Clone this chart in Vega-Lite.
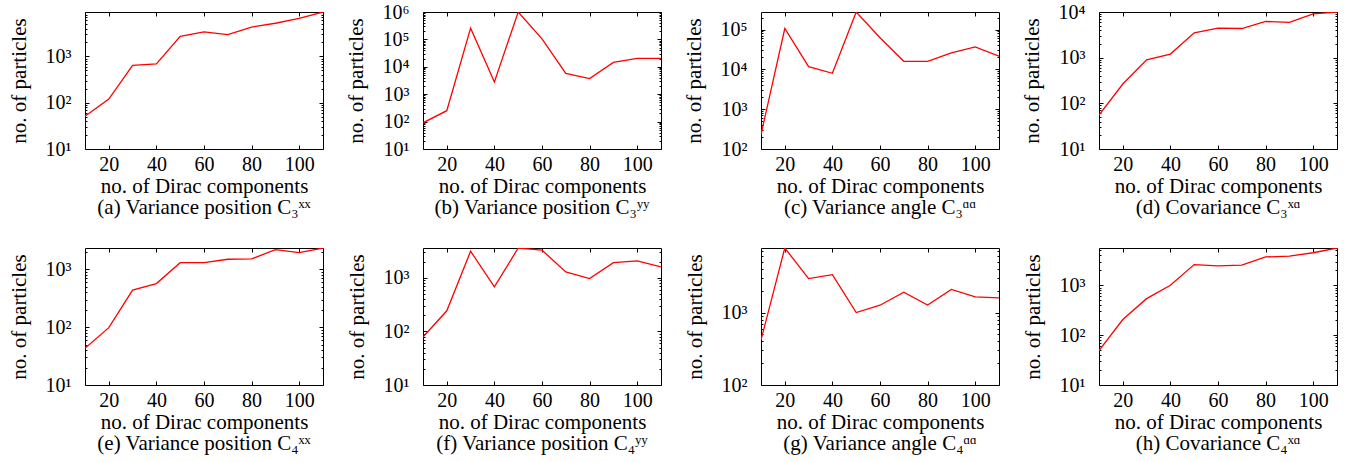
{
  "$schema": "https://vega.github.io/schema/vega-lite/v6.json",
  "background": "white",
  "padding": {"left": 7, "top": 1, "right": 0, "bottom": 0},
  "config": {
    "font": "Liberation Serif",
    "view": {"stroke": "#000000", "strokeWidth": 1},
    "axis": {"domain": false, "grid": false, "ticks": true, "tickColor": "#000000", "tickWidth": 1, "tickSize": -4, "labelFont": "Liberation Serif", "labelFontSize": 20, "labelColor": "#000000", "titleFont": "Liberation Serif", "titleFontSize": 21, "titleFontWeight": "normal", "titleColor": "#000000", "labelOverlap": false},
    "axisX": {"labelPadding": 9, "titlePadding": 1},
    "axisY": {"labelPadding": 18, "titlePadding": 16, "labelFlush": false},
    "title": {"font": "Liberation Serif", "fontSize": 21, "fontWeight": "normal", "color": "#000000", "orient": "bottom", "anchor": "middle", "offset": 1}
  },
  "datasets": {
    "a": [{"n":10,"p":51},{"n":20,"p":120},{"n":30,"p":638},{"n":40,"p":690},{"n":50,"p":2700},{"n":60,"p":3380},{"n":70,"p":2950},{"n":80,"p":4300},{"n":90,"p":5200},{"n":100,"p":6600},{"n":110,"p":9100}],
    "b": [{"n":10,"p":90},{"n":20,"p":250},{"n":30,"p":257000},{"n":40,"p":2800},{"n":50,"p":1000000},{"n":60,"p":105000},{"n":70,"p":5700},{"n":80,"p":3700},{"n":90,"p":14400},{"n":100,"p":20400},{"n":110,"p":20400}],
    "c": [{"n":10,"p":230},{"n":20,"p":106000},{"n":30,"p":11700},{"n":40,"p":7950},{"n":50,"p":275000},{"n":60,"p":62000},{"n":70,"p":15900},{"n":80,"p":15900},{"n":90,"p":25800},{"n":100,"p":36700},{"n":110,"p":21500}],
    "d": [{"n":10,"p":55},{"n":20,"p":265},{"n":30,"p":900},{"n":40,"p":1200},{"n":50,"p":3500},{"n":60,"p":4430},{"n":70,"p":4350},{"n":80,"p":6200},{"n":90,"p":5900},{"n":100,"p":9100},{"n":110,"p":10000}],
    "e": [{"n":10,"p":43},{"n":20,"p":98},{"n":30,"p":435},{"n":40,"p":565},{"n":50,"p":1300},{"n":60,"p":1300},{"n":70,"p":1490},{"n":80,"p":1510},{"n":90,"p":2180},{"n":100,"p":1940},{"n":110,"p":2330}],
    "f": [{"n":10,"p":79},{"n":20,"p":243},{"n":30,"p":3150},{"n":40,"p":680},{"n":50,"p":3620},{"n":60,"p":3300},{"n":70,"p":1290},{"n":80,"p":975},{"n":90,"p":1930},{"n":100,"p":2080},{"n":110,"p":1600}],
    "g": [{"n":10,"p":416},{"n":20,"p":7760},{"n":30,"p":2940},{"n":40,"p":3330},{"n":50,"p":1000},{"n":60,"p":1260},{"n":70,"p":1910},{"n":80,"p":1270},{"n":90,"p":2080},{"n":100,"p":1640},{"n":110,"p":1590}],
    "h": [{"n":10,"p":49},{"n":20,"p":206},{"n":30,"p":540},{"n":40,"p":1000},{"n":50,"p":2600},{"n":60,"p":2450},{"n":70,"p":2550},{"n":80,"p":3700},{"n":90,"p":3860},{"n":100,"p":4500},{"n":110,"p":5600}]
  },
  "bounds": "flush",
  "columns": 4,
  "spacing": {"row": 99, "column": 100},
  "concat": [
    {
      "width": 238, "height": 137,
      "title": {"text": "(a) Variance position C₃ˣˣ"},
      "data": {"name": "a"},
      "layer": [
        {"mark": {"type": "line", "color": "#ff0000", "strokeWidth": 1.3, "clip": true},
         "encoding": {
           "x": {"field": "n", "type": "quantitative", "scale": {"domain": [10, 110], "nice": false, "zero": false}, "axis": {"orient": "bottom", "values": [20,40,60,80,100], "title": "no. of Dirac components"}},
           "y": {"field": "p", "type": "quantitative", "scale": {"type": "log", "domain": [10, 9100], "nice": false}, "axis": {"orient": "left", "title": "no. of particles", "values": [10,20,30,40,50,60,70,80,90,100,200,300,400,500,600,700,800,900,1000,2000,3000,4000,5000,6000,7000,8000,9000,10000,20000,30000,40000,50000,60000,70000,80000,90000,100000,200000,300000,400000,500000,600000,700000,800000,900000,1000000], "labelExpr": "abs(log(datum.value)/LN10 - round(log(datum.value)/LN10)) < 0.001 ? '10' + ['⁰','¹','²','³','⁴','⁵','⁶','⁷'][round(log(datum.value)/LN10)] : ''", "tickSize": {"condition": {"test": "abs(log(datum.value)/LN10 - round(log(datum.value)/LN10)) < 0.001", "value": -4}, "value": -2}}}
         }},
        {"mark": {"type": "line", "opacity": 0},
         "encoding": {
           "x": {"field": "n", "type": "quantitative", "scale": {"domain": [10, 110], "nice": false, "zero": false}, "axis": {"orient": "top", "values": [20,40,60,80,100], "labels": false, "title": null}},
           "y": {"field": "p", "type": "quantitative", "scale": {"type": "log", "domain": [10, 9100], "nice": false}, "axis": {"orient": "right", "title": null, "labels": false, "values": [10,20,30,40,50,60,70,80,90,100,200,300,400,500,600,700,800,900,1000,2000,3000,4000,5000,6000,7000,8000,9000,10000,20000,30000,40000,50000,60000,70000,80000,90000,100000,200000,300000,400000,500000,600000,700000,800000,900000,1000000], "tickSize": {"condition": {"test": "abs(log(datum.value)/LN10 - round(log(datum.value)/LN10)) < 0.001", "value": -4}, "value": -2}}}
         }}
      ],
      "resolve": {"axis": {"x": "independent", "y": "independent"}}
    },
    {
      "width": 238, "height": 137,
      "title": {"text": "(b) Variance position C₃ʸʸ"},
      "data": {"name": "b"},
      "layer": [
        {"mark": {"type": "line", "color": "#ff0000", "strokeWidth": 1.3, "clip": true},
         "encoding": {
           "x": {"field": "n", "type": "quantitative", "scale": {"domain": [10, 110], "nice": false, "zero": false}, "axis": {"orient": "bottom", "values": [20,40,60,80,100], "title": "no. of Dirac components"}},
           "y": {"field": "p", "type": "quantitative", "scale": {"type": "log", "domain": [10, 1000000], "nice": false}, "axis": {"orient": "left", "title": "no. of particles", "values": [10,20,30,40,50,60,70,80,90,100,200,300,400,500,600,700,800,900,1000,2000,3000,4000,5000,6000,7000,8000,9000,10000,20000,30000,40000,50000,60000,70000,80000,90000,100000,200000,300000,400000,500000,600000,700000,800000,900000,1000000], "labelExpr": "abs(log(datum.value)/LN10 - round(log(datum.value)/LN10)) < 0.001 ? '10' + ['⁰','¹','²','³','⁴','⁵','⁶','⁷'][round(log(datum.value)/LN10)] : ''", "tickSize": {"condition": {"test": "abs(log(datum.value)/LN10 - round(log(datum.value)/LN10)) < 0.001", "value": -4}, "value": -2}}}
         }},
        {"mark": {"type": "line", "opacity": 0},
         "encoding": {
           "x": {"field": "n", "type": "quantitative", "scale": {"domain": [10, 110], "nice": false, "zero": false}, "axis": {"orient": "top", "values": [20,40,60,80,100], "labels": false, "title": null}},
           "y": {"field": "p", "type": "quantitative", "scale": {"type": "log", "domain": [10, 1000000], "nice": false}, "axis": {"orient": "right", "title": null, "labels": false, "values": [10,20,30,40,50,60,70,80,90,100,200,300,400,500,600,700,800,900,1000,2000,3000,4000,5000,6000,7000,8000,9000,10000,20000,30000,40000,50000,60000,70000,80000,90000,100000,200000,300000,400000,500000,600000,700000,800000,900000,1000000], "tickSize": {"condition": {"test": "abs(log(datum.value)/LN10 - round(log(datum.value)/LN10)) < 0.001", "value": -4}, "value": -2}}}
         }}
      ],
      "resolve": {"axis": {"x": "independent", "y": "independent"}}
    },
    {
      "width": 238, "height": 137,
      "title": {"text": "(c) Variance angle C₃ᵅᵅ"},
      "data": {"name": "c"},
      "layer": [
        {"mark": {"type": "line", "color": "#ff0000", "strokeWidth": 1.3, "clip": true},
         "encoding": {
           "x": {"field": "n", "type": "quantitative", "scale": {"domain": [10, 110], "nice": false, "zero": false}, "axis": {"orient": "bottom", "values": [20,40,60,80,100], "title": "no. of Dirac components"}},
           "y": {"field": "p", "type": "quantitative", "scale": {"type": "log", "domain": [100, 275000], "nice": false}, "axis": {"orient": "left", "title": "no. of particles", "values": [10,20,30,40,50,60,70,80,90,100,200,300,400,500,600,700,800,900,1000,2000,3000,4000,5000,6000,7000,8000,9000,10000,20000,30000,40000,50000,60000,70000,80000,90000,100000,200000,300000,400000,500000,600000,700000,800000,900000,1000000], "labelExpr": "abs(log(datum.value)/LN10 - round(log(datum.value)/LN10)) < 0.001 ? '10' + ['⁰','¹','²','³','⁴','⁵','⁶','⁷'][round(log(datum.value)/LN10)] : ''", "tickSize": {"condition": {"test": "abs(log(datum.value)/LN10 - round(log(datum.value)/LN10)) < 0.001", "value": -4}, "value": -2}}}
         }},
        {"mark": {"type": "line", "opacity": 0},
         "encoding": {
           "x": {"field": "n", "type": "quantitative", "scale": {"domain": [10, 110], "nice": false, "zero": false}, "axis": {"orient": "top", "values": [20,40,60,80,100], "labels": false, "title": null}},
           "y": {"field": "p", "type": "quantitative", "scale": {"type": "log", "domain": [100, 275000], "nice": false}, "axis": {"orient": "right", "title": null, "labels": false, "values": [10,20,30,40,50,60,70,80,90,100,200,300,400,500,600,700,800,900,1000,2000,3000,4000,5000,6000,7000,8000,9000,10000,20000,30000,40000,50000,60000,70000,80000,90000,100000,200000,300000,400000,500000,600000,700000,800000,900000,1000000], "tickSize": {"condition": {"test": "abs(log(datum.value)/LN10 - round(log(datum.value)/LN10)) < 0.001", "value": -4}, "value": -2}}}
         }}
      ],
      "resolve": {"axis": {"x": "independent", "y": "independent"}}
    },
    {
      "width": 238, "height": 137,
      "title": {"text": "(d) Covariance C₃ˣᵅ"},
      "data": {"name": "d"},
      "layer": [
        {"mark": {"type": "line", "color": "#ff0000", "strokeWidth": 1.3, "clip": true},
         "encoding": {
           "x": {"field": "n", "type": "quantitative", "scale": {"domain": [10, 110], "nice": false, "zero": false}, "axis": {"orient": "bottom", "values": [20,40,60,80,100], "title": "no. of Dirac components"}},
           "y": {"field": "p", "type": "quantitative", "scale": {"type": "log", "domain": [10, 10000], "nice": false}, "axis": {"orient": "left", "title": "no. of particles", "values": [10,20,30,40,50,60,70,80,90,100,200,300,400,500,600,700,800,900,1000,2000,3000,4000,5000,6000,7000,8000,9000,10000,20000,30000,40000,50000,60000,70000,80000,90000,100000,200000,300000,400000,500000,600000,700000,800000,900000,1000000], "labelExpr": "abs(log(datum.value)/LN10 - round(log(datum.value)/LN10)) < 0.001 ? '10' + ['⁰','¹','²','³','⁴','⁵','⁶','⁷'][round(log(datum.value)/LN10)] : ''", "tickSize": {"condition": {"test": "abs(log(datum.value)/LN10 - round(log(datum.value)/LN10)) < 0.001", "value": -4}, "value": -2}}}
         }},
        {"mark": {"type": "line", "opacity": 0},
         "encoding": {
           "x": {"field": "n", "type": "quantitative", "scale": {"domain": [10, 110], "nice": false, "zero": false}, "axis": {"orient": "top", "values": [20,40,60,80,100], "labels": false, "title": null}},
           "y": {"field": "p", "type": "quantitative", "scale": {"type": "log", "domain": [10, 10000], "nice": false}, "axis": {"orient": "right", "title": null, "labels": false, "values": [10,20,30,40,50,60,70,80,90,100,200,300,400,500,600,700,800,900,1000,2000,3000,4000,5000,6000,7000,8000,9000,10000,20000,30000,40000,50000,60000,70000,80000,90000,100000,200000,300000,400000,500000,600000,700000,800000,900000,1000000], "tickSize": {"condition": {"test": "abs(log(datum.value)/LN10 - round(log(datum.value)/LN10)) < 0.001", "value": -4}, "value": -2}}}
         }}
      ],
      "resolve": {"axis": {"x": "independent", "y": "independent"}}
    },
    {
      "width": 238, "height": 137,
      "title": {"text": "(e) Variance position C₄ˣˣ"},
      "data": {"name": "e"},
      "layer": [
        {"mark": {"type": "line", "color": "#ff0000", "strokeWidth": 1.3, "clip": true},
         "encoding": {
           "x": {"field": "n", "type": "quantitative", "scale": {"domain": [10, 110], "nice": false, "zero": false}, "axis": {"orient": "bottom", "values": [20,40,60,80,100], "title": "no. of Dirac components"}},
           "y": {"field": "p", "type": "quantitative", "scale": {"type": "log", "domain": [10, 2330], "nice": false}, "axis": {"orient": "left", "title": "no. of particles", "values": [10,20,30,40,50,60,70,80,90,100,200,300,400,500,600,700,800,900,1000,2000,3000,4000,5000,6000,7000,8000,9000,10000,20000,30000,40000,50000,60000,70000,80000,90000,100000,200000,300000,400000,500000,600000,700000,800000,900000,1000000], "labelExpr": "abs(log(datum.value)/LN10 - round(log(datum.value)/LN10)) < 0.001 ? '10' + ['⁰','¹','²','³','⁴','⁵','⁶','⁷'][round(log(datum.value)/LN10)] : ''", "tickSize": {"condition": {"test": "abs(log(datum.value)/LN10 - round(log(datum.value)/LN10)) < 0.001", "value": -4}, "value": -2}}}
         }},
        {"mark": {"type": "line", "opacity": 0},
         "encoding": {
           "x": {"field": "n", "type": "quantitative", "scale": {"domain": [10, 110], "nice": false, "zero": false}, "axis": {"orient": "top", "values": [20,40,60,80,100], "labels": false, "title": null}},
           "y": {"field": "p", "type": "quantitative", "scale": {"type": "log", "domain": [10, 2330], "nice": false}, "axis": {"orient": "right", "title": null, "labels": false, "values": [10,20,30,40,50,60,70,80,90,100,200,300,400,500,600,700,800,900,1000,2000,3000,4000,5000,6000,7000,8000,9000,10000,20000,30000,40000,50000,60000,70000,80000,90000,100000,200000,300000,400000,500000,600000,700000,800000,900000,1000000], "tickSize": {"condition": {"test": "abs(log(datum.value)/LN10 - round(log(datum.value)/LN10)) < 0.001", "value": -4}, "value": -2}}}
         }}
      ],
      "resolve": {"axis": {"x": "independent", "y": "independent"}}
    },
    {
      "width": 238, "height": 137,
      "title": {"text": "(f) Variance position C₄ʸʸ"},
      "data": {"name": "f"},
      "layer": [
        {"mark": {"type": "line", "color": "#ff0000", "strokeWidth": 1.3, "clip": true},
         "encoding": {
           "x": {"field": "n", "type": "quantitative", "scale": {"domain": [10, 110], "nice": false, "zero": false}, "axis": {"orient": "bottom", "values": [20,40,60,80,100], "title": "no. of Dirac components"}},
           "y": {"field": "p", "type": "quantitative", "scale": {"type": "log", "domain": [10, 3620], "nice": false}, "axis": {"orient": "left", "title": "no. of particles", "values": [10,20,30,40,50,60,70,80,90,100,200,300,400,500,600,700,800,900,1000,2000,3000,4000,5000,6000,7000,8000,9000,10000,20000,30000,40000,50000,60000,70000,80000,90000,100000,200000,300000,400000,500000,600000,700000,800000,900000,1000000], "labelExpr": "abs(log(datum.value)/LN10 - round(log(datum.value)/LN10)) < 0.001 ? '10' + ['⁰','¹','²','³','⁴','⁵','⁶','⁷'][round(log(datum.value)/LN10)] : ''", "tickSize": {"condition": {"test": "abs(log(datum.value)/LN10 - round(log(datum.value)/LN10)) < 0.001", "value": -4}, "value": -2}}}
         }},
        {"mark": {"type": "line", "opacity": 0},
         "encoding": {
           "x": {"field": "n", "type": "quantitative", "scale": {"domain": [10, 110], "nice": false, "zero": false}, "axis": {"orient": "top", "values": [20,40,60,80,100], "labels": false, "title": null}},
           "y": {"field": "p", "type": "quantitative", "scale": {"type": "log", "domain": [10, 3620], "nice": false}, "axis": {"orient": "right", "title": null, "labels": false, "values": [10,20,30,40,50,60,70,80,90,100,200,300,400,500,600,700,800,900,1000,2000,3000,4000,5000,6000,7000,8000,9000,10000,20000,30000,40000,50000,60000,70000,80000,90000,100000,200000,300000,400000,500000,600000,700000,800000,900000,1000000], "tickSize": {"condition": {"test": "abs(log(datum.value)/LN10 - round(log(datum.value)/LN10)) < 0.001", "value": -4}, "value": -2}}}
         }}
      ],
      "resolve": {"axis": {"x": "independent", "y": "independent"}}
    },
    {
      "width": 238, "height": 137,
      "title": {"text": "(g) Variance angle C₄ᵅᵅ"},
      "data": {"name": "g"},
      "layer": [
        {"mark": {"type": "line", "color": "#ff0000", "strokeWidth": 1.3, "clip": true},
         "encoding": {
           "x": {"field": "n", "type": "quantitative", "scale": {"domain": [10, 110], "nice": false, "zero": false}, "axis": {"orient": "bottom", "values": [20,40,60,80,100], "title": "no. of Dirac components"}},
           "y": {"field": "p", "type": "quantitative", "scale": {"type": "log", "domain": [100, 7760], "nice": false}, "axis": {"orient": "left", "title": "no. of particles", "values": [10,20,30,40,50,60,70,80,90,100,200,300,400,500,600,700,800,900,1000,2000,3000,4000,5000,6000,7000,8000,9000,10000,20000,30000,40000,50000,60000,70000,80000,90000,100000,200000,300000,400000,500000,600000,700000,800000,900000,1000000], "labelExpr": "abs(log(datum.value)/LN10 - round(log(datum.value)/LN10)) < 0.001 ? '10' + ['⁰','¹','²','³','⁴','⁵','⁶','⁷'][round(log(datum.value)/LN10)] : ''", "tickSize": {"condition": {"test": "abs(log(datum.value)/LN10 - round(log(datum.value)/LN10)) < 0.001", "value": -4}, "value": -2}}}
         }},
        {"mark": {"type": "line", "opacity": 0},
         "encoding": {
           "x": {"field": "n", "type": "quantitative", "scale": {"domain": [10, 110], "nice": false, "zero": false}, "axis": {"orient": "top", "values": [20,40,60,80,100], "labels": false, "title": null}},
           "y": {"field": "p", "type": "quantitative", "scale": {"type": "log", "domain": [100, 7760], "nice": false}, "axis": {"orient": "right", "title": null, "labels": false, "values": [10,20,30,40,50,60,70,80,90,100,200,300,400,500,600,700,800,900,1000,2000,3000,4000,5000,6000,7000,8000,9000,10000,20000,30000,40000,50000,60000,70000,80000,90000,100000,200000,300000,400000,500000,600000,700000,800000,900000,1000000], "tickSize": {"condition": {"test": "abs(log(datum.value)/LN10 - round(log(datum.value)/LN10)) < 0.001", "value": -4}, "value": -2}}}
         }}
      ],
      "resolve": {"axis": {"x": "independent", "y": "independent"}}
    },
    {
      "width": 238, "height": 137,
      "title": {"text": "(h) Covariance C₄ˣᵅ"},
      "data": {"name": "h"},
      "layer": [
        {"mark": {"type": "line", "color": "#ff0000", "strokeWidth": 1.3, "clip": true},
         "encoding": {
           "x": {"field": "n", "type": "quantitative", "scale": {"domain": [10, 110], "nice": false, "zero": false}, "axis": {"orient": "bottom", "values": [20,40,60,80,100], "title": "no. of Dirac components"}},
           "y": {"field": "p", "type": "quantitative", "scale": {"type": "log", "domain": [10, 5600], "nice": false}, "axis": {"orient": "left", "title": "no. of particles", "values": [10,20,30,40,50,60,70,80,90,100,200,300,400,500,600,700,800,900,1000,2000,3000,4000,5000,6000,7000,8000,9000,10000,20000,30000,40000,50000,60000,70000,80000,90000,100000,200000,300000,400000,500000,600000,700000,800000,900000,1000000], "labelExpr": "abs(log(datum.value)/LN10 - round(log(datum.value)/LN10)) < 0.001 ? '10' + ['⁰','¹','²','³','⁴','⁵','⁶','⁷'][round(log(datum.value)/LN10)] : ''", "tickSize": {"condition": {"test": "abs(log(datum.value)/LN10 - round(log(datum.value)/LN10)) < 0.001", "value": -4}, "value": -2}}}
         }},
        {"mark": {"type": "line", "opacity": 0},
         "encoding": {
           "x": {"field": "n", "type": "quantitative", "scale": {"domain": [10, 110], "nice": false, "zero": false}, "axis": {"orient": "top", "values": [20,40,60,80,100], "labels": false, "title": null}},
           "y": {"field": "p", "type": "quantitative", "scale": {"type": "log", "domain": [10, 5600], "nice": false}, "axis": {"orient": "right", "title": null, "labels": false, "values": [10,20,30,40,50,60,70,80,90,100,200,300,400,500,600,700,800,900,1000,2000,3000,4000,5000,6000,7000,8000,9000,10000,20000,30000,40000,50000,60000,70000,80000,90000,100000,200000,300000,400000,500000,600000,700000,800000,900000,1000000], "tickSize": {"condition": {"test": "abs(log(datum.value)/LN10 - round(log(datum.value)/LN10)) < 0.001", "value": -4}, "value": -2}}}
         }}
      ],
      "resolve": {"axis": {"x": "independent", "y": "independent"}}
    }
  ]
}
